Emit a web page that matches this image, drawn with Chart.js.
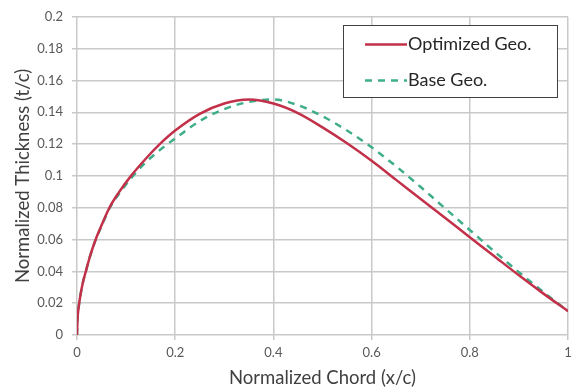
<!DOCTYPE html>
<html>
<head>
<meta charset="utf-8">
<script src="https://cdn.jsdelivr.net/npm/chart.js@4/dist/chart.umd.min.js"></script>
<style>
  html, body { margin: 0; padding: 0; background: #fff; }
  #wrap { width: 579px; height: 392px; position: relative; }
</style>
</head>
<body>
<div id="wrap"><canvas id="chart"></canvas></div>
<script>
// values
const optX = [0, 0.001, 0.003, 0.007, 0.012, 0.018, 0.026, 0.038, 0.05, 0.066, 0.085, 0.11, 0.14, 0.168, 0.2, 0.25, 0.3, 0.35, 0.4, 0.45, 0.5, 0.55, 0.6, 0.65, 0.7, 0.75, 0.8, 0.85, 0.9, 0.95, 1];
const optY = [0, 0.0095, 0.0165, 0.025, 0.033, 0.04, 0.049, 0.06, 0.069, 0.08, 0.0895, 0.1, 0.1108, 0.1198, 0.1285, 0.139, 0.1455, 0.148, 0.1455, 0.1395, 0.1305, 0.1205, 0.1095, 0.0975, 0.0855, 0.0735, 0.0615, 0.0495, 0.0375, 0.026, 0.015];

const baseX = [0, 0.001, 0.003, 0.007, 0.012, 0.018, 0.026, 0.038, 0.05, 0.066, 0.085, 0.11, 0.14, 0.18, 0.2, 0.25, 0.3, 0.35, 0.4, 0.45, 0.5, 0.55, 0.6, 0.65, 0.7, 0.75, 0.8, 0.85, 0.9, 0.95, 1];
const baseY = [0, 0.0095, 0.0165, 0.025, 0.033, 0.04, 0.049, 0.0598, 0.0685, 0.0795, 0.0885, 0.0985, 0.1085, 0.119, 0.1235, 0.1345, 0.142, 0.1465, 0.148, 0.1445, 0.1375, 0.1285, 0.118, 0.106, 0.093, 0.0795, 0.066, 0.0525, 0.0395, 0.027, 0.015];

const seriesNames = ['Optimized Geo.', 'Base Geo.'];
const xTickLabels = ['0', '0.2', '0.4', '0.6', '0.8', '1'];
const yTickLabels = ['0', '0.02', '0.04', '0.06', '0.08', '0.1', '0.12', '0.14', '0.16', '0.18', '0.2'];

const toPoints = (xs, ys) => xs.map((x, i) => ({ x: x, y: ys[i] }));

const FONT = "'Lato', 'Open Sans', sans-serif";
const RED = '#c23049';
const GREEN = '#3fae88';

// legend box drawn inside the plot area
const boxLegend = {
  id: 'boxLegend',
  afterDraw(chart) {
    const ctx = chart.ctx;
    const x0 = 343.5, y0 = 25.5, w = 214, h = 72;
    ctx.save();
    ctx.fillStyle = '#fff';
    ctx.fillRect(x0, y0, w, h);
    ctx.strokeStyle = '#404040';
    ctx.lineWidth = 1;
    ctx.strokeRect(x0, y0, w, h);
    ctx.font = '18px ' + FONT;
    ctx.textBaseline = 'middle';
    ctx.fillStyle = '#262626';
    chart.data.datasets.forEach((ds, i) => {
      const yy = y0 + 19 + i * 36;
      ctx.beginPath();
      ctx.strokeStyle = ds.borderColor;
      ctx.lineWidth = 2.5;
      ctx.setLineDash(ds.borderDash || []);
      ctx.moveTo(365, yy);
      ctx.lineTo(407, yy);
      ctx.stroke();
      ctx.setLineDash([]);
      ctx.fillText(ds.label, 408, yy);
    });
    ctx.restore();
  }
};

const ctx = document.getElementById('chart').getContext('2d');
new Chart(ctx, {
  type: 'scatter',
  data: {
    datasets: [
      {
        label: seriesNames[0],
        data: toPoints(optX, optY),
        showLine: true,
        borderColor: RED,
        borderWidth: 2.5,
        pointRadius: 0,
        cubicInterpolationMode: 'monotone'
      },
      {
        label: seriesNames[1],
        data: toPoints(baseX, baseY),
        showLine: true,
        borderColor: GREEN,
        borderWidth: 2.5,
        borderDash: [7, 6],
        pointRadius: 0,
        cubicInterpolationMode: 'monotone'
      }
    ]
  },
  options: {
    responsive: true,
    maintainAspectRatio: false,
    animation: false,
    layout: { padding: { top: 13, right: 11, left: 0, bottom: 0 } },
    plugins: {
      legend: { display: false },
      tooltip: { enabled: false }
    },
    scales: {
      x: {
        type: 'linear',
        min: 0,
        max: 1,
        afterFit: (s) => { s.height = 57; },
        ticks: {
          stepSize: 0.2,
          font: { family: FONT, size: 13 },
          color: '#595959',
          padding: 5,
          callback: (v, i) => xTickLabels[i]
        },
        grid: { color: '#c9c9c9', lineWidth: 1.5, tickLength: 5 },
        border: { display: false },
        title: {
          display: true,
          text: 'Normalized Chord (x/c)',
          font: { family: FONT, size: 18.5 },
          color: '#404040',
          padding: { top: 0, bottom: 3 }
        }
      },
      y: {
        type: 'linear',
        min: 0,
        max: 0.2,
        afterFit: (s) => { s.width = 77; },
        ticks: {
          stepSize: 0.02,
          font: { family: FONT, size: 13 },
          color: '#595959',
          padding: 9,
          callback: (v, i) => yTickLabels[i]
        },
        grid: { color: '#c9c9c9', lineWidth: 1.5, tickLength: 5 },
        border: { display: false },
        title: {
          display: true,
          text: 'Normalized Thickness (t/c)',
          font: { family: FONT, size: 18.5 },
          color: '#404040',
          padding: { top: 12, bottom: 0 }
        }
      }
    }
  },
  plugins: [boxLegend]
});
</script>
</body>
</html>
